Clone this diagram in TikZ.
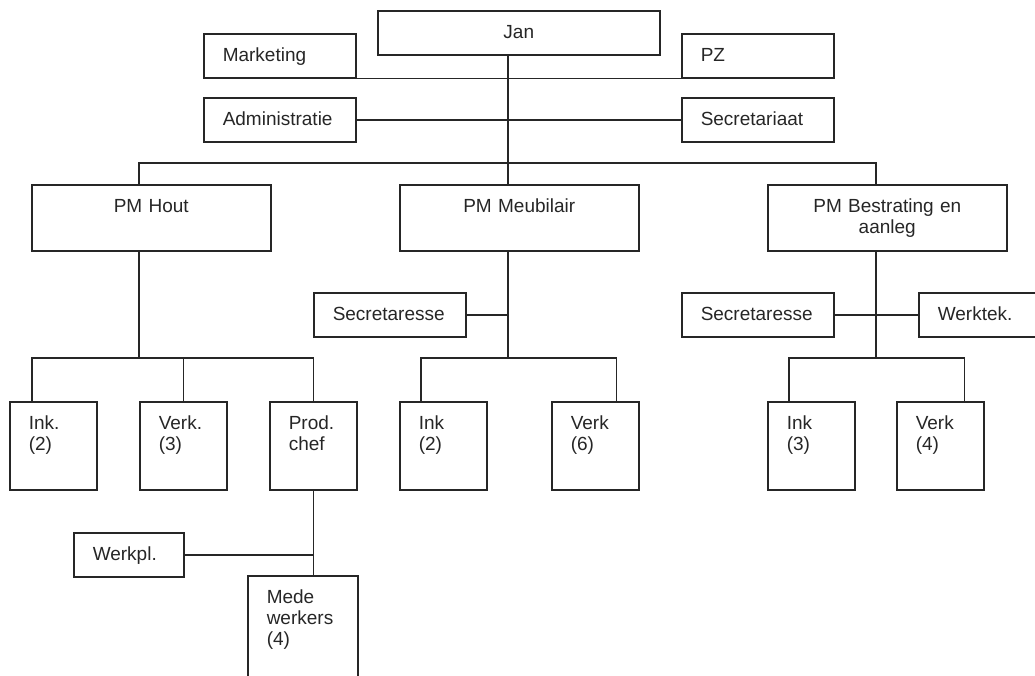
\documentclass[tikz,border=0pt]{standalone}
\usepackage{fontspec}
\setmainfont{Liberation Sans}
\usepackage{tikz}
\usetikzlibrary{positioning,calc}
\tikzset{
  box/.style={draw,anchor=north west,inner ysep=0pt,
              text height=28pt,font=\fontsize{19}{21}\selectfont},
  topbox/.style={box,inner xsep=0pt,align=center,text width=282pt,
                 text depth=16pt},
  sidebox/.style={box,inner xsep=19pt,align=left,text width=114pt,
                  text depth=16pt},
  pmbox/.style={box,inner xsep=0pt,align=center,text width=239pt,
                text depth=38pt},
  unitbox/.style={box,inner xsep=19pt,align=left,text width=49pt,
                  text depth=60pt},
}

\begin{document}
\begin{tikzpicture}[x=1pt,y=-1pt,line width=1.5pt,color=black!85]
  \useasboundingbox (0,0) rectangle (1035,675);
  \clip (0,0) rectangle (1035,675);
  % Top
  \node[topbox](Jan)           at (377,10)  {Jan};
  \node[sidebox](Marketing)    at (203,33)  {Marketing};
  \node[sidebox](PZ)           at (681,33)  {PZ};
  \node[sidebox](Admin)        at (203,97)  {Administratie};
  \node[sidebox](Secretariaat) at (681,97)  {Secretariaat};
  % Product managers
  \node[pmbox](PMHout)  at (31,184)  {PM Hout};
  \node[pmbox](PMMeub)  at (399,184) {PM Meubilair};
  \node[pmbox](PMBest)  at (767,184) {PM Bestrating en\\aanleg};
  \node[sidebox](SecMeub) at (313,292) {Secretaresse};
  \node[sidebox](SecBest) at (681,292) {Secretaresse};
  \node[sidebox](Werktek) at (918,292) {Werktek.};
  % Column Hout
  \node[unitbox](InkHout)  at (9,401)   {Ink.\\(2)};
  \node[unitbox](VerkHout) at (139,401) {Verk.\\(3)};
  \node[unitbox](ProdHout) at (269,401) {Prod.\\chef};
  \node[sidebox,text width=72pt](Werkpl) at (73,532) {Werkpl.};
  \node[unitbox,text width=72pt,text depth=82pt](Mede) at (247,575)
    {Mede\\werkers\\(4)};
  % Column Meubilair
  \node[unitbox](InkMeub)  at (399,401) {Ink\\(2)};
  \node[unitbox](VerkMeub) at (551,401) {Verk\\(6)};
  % Column Bestrating
  \node[unitbox](InkBest)  at (767,401) {Ink\\(3)};
  \node[unitbox](VerkBest) at (896,401) {Verk\\(4)};

  \coordinate (barH) at (139,163);
  \coordinate (barM) at (508,163);
  \coordinate (barB) at (876,163);
  \coordinate (subH) at (139,358);
  \coordinate (subM) at (508,358);
  \coordinate (subB) at (876,358);

  % Staff lines
  \draw (Jan.south -| barM) -- (PMMeub.north -| barM);
  \draw (Marketing.south east) -- (PZ.south west);
  \draw (Admin.east) -- (Secretariaat.west);
  \draw (PMHout.north -| barH) |- (barB) -- (PMBest.north -| barB);

  % Hout
  \draw (PMHout.south -| subH) -- (subH);
  \draw ([xshift=23pt]InkHout.north west) |- (ProdHout.north |- subH)
        -- (ProdHout.north);
  \draw (VerkHout.north) -- (VerkHout.north |- subH);
  \draw (ProdHout.south) -- (ProdHout.south |- Mede.north);
  \draw (Werkpl.east) -- (Werkpl.east -| ProdHout.south);

  % Meubilair
  \draw (PMMeub.south -| subM) -- (subM);
  \draw (SecMeub.east) -- (SecMeub.east -| subM);
  \draw ([xshift=22pt]InkMeub.north west) |- ([xshift=-23pt]VerkMeub.north east |- subM)
        -- ([xshift=-23pt]VerkMeub.north east);

  % Bestrating
  \draw (PMBest.south -| subB) -- (subB);
  \draw (SecBest.east) -- (Werktek.west);
  \draw ([xshift=22pt]InkBest.north west) |- ([xshift=-20pt]VerkBest.north east |- subB)
        -- ([xshift=-20pt]VerkBest.north east);
\end{tikzpicture}
\end{document}
